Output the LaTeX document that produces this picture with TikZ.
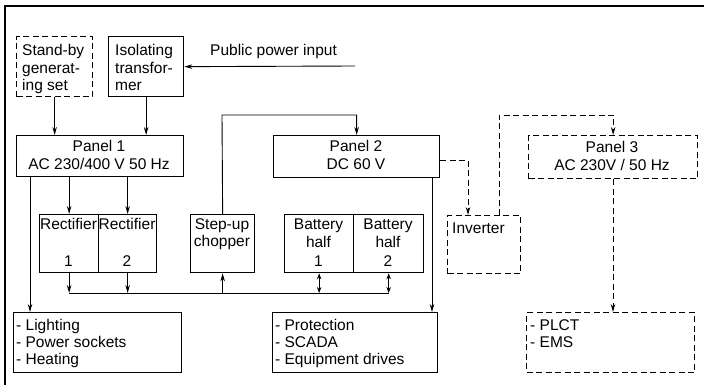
\documentclass[tikz,border=0pt]{standalone}
\usepackage{fontspec}
\setmainfont{Liberation Sans}
\usetikzlibrary{arrows.meta}
\begin{document}
\begin{tikzpicture}[x=1pt,y=-1pt,
  box/.style={draw, line width=1.3pt, inner sep=0pt, anchor=north west},
  dbox/.style={box, dash pattern=on 6pt off 3.5pt},
  txt/.style={inner sep=0pt, anchor=base west, font=\fontsize{15.5}{17}\selectfont},
  ctxt/.style={txt, anchor=base},
  conn/.style={line width=0.9pt},
  dconn/.style={conn, dash pattern=on 6pt off 3.5pt},
  arr/.style={-{Stealth[length=8pt,width=4.5pt]}},
  darr/.style={{Stealth[length=6pt,width=4.5pt]}-{Stealth[length=6pt,width=4.5pt]}},
  uarr/.style={{Stealth[length=8pt,width=4.5pt]}-}
]
\useasboundingbox (0,0) rectangle (704,385);
% frame
\draw[line width=1.6pt] (5,385) -- (5,6) -- (704,6);

% boxes
\node[dbox, minimum width=76pt, minimum height=60pt] (sb) at (16,36) {};
\node[box, minimum width=75pt, minimum height=60pt] (iso) at (108,36) {};
\node[box, minimum width=167pt, minimum height=41pt] (p1) at (16,135) {};
\node[box, minimum width=166pt, minimum height=42pt] (p2) at (273,135) {};
\node[dbox, minimum width=169pt, minimum height=43pt] (p3) at (528,135) {};
\node[box, minimum width=59pt, minimum height=58pt] (r1) at (39,214) {};
\node[box, minimum width=58pt, minimum height=58pt] (r2) at (98,214) {};
\node[box, minimum width=64pt, minimum height=58pt] (ch) at (190,214) {};
\node[box, minimum width=69pt, minimum height=58pt] (b1) at (284,214) {};
\node[box, minimum width=70pt, minimum height=58pt] (b2) at (353,214) {};
\node[dbox, minimum width=73pt, minimum height=58pt] (inv) at (447,215) {};
\node[box, minimum width=168pt, minimum height=60pt] (lt) at (13,312) {};
\node[box, minimum width=165pt, minimum height=60pt] (pr) at (272,312) {};
\node[dbox, minimum width=168pt, minimum height=60pt] (pl) at (526,312) {};

% texts
\node[txt] (t1) at (22,56) {Stand-by};
\node[txt] (t2) at (22,74) {generat-};
\node[txt] (t3) at (22,91) {ing set};
\node[txt] (t4) at (115,56) {Isolating};
\node[txt] (t5) at (115,74) {transfor-};
\node[txt] (t6) at (115,91) {mer};
\node[txt] (t7) at (210,56) {Public power input};
\node[ctxt] (t8) at (99,152) {Panel 1};
\node[ctxt] (t9) at (99,169) {AC 230/400 V 50 Hz};
\node[ctxt] (t10) at (356,152) {Panel 2};
\node[ctxt] (t11) at (356,169) {DC 60 V};
\node[ctxt] (t12) at (612,153) {Panel 3};
\node[ctxt] (t13) at (612,170) {AC 230V / 50 Hz};
\node[ctxt] (t14) at (68.5,229) {Rectifier};
\node[ctxt] (t15) at (68.5,266) {1};
\node[ctxt] (t16) at (127,229) {Rectifier};
\node[ctxt] (t17) at (127,266) {2};
\node[ctxt] (t18) at (222,229) {Step-up};
\node[ctxt] (t19) at (222,246) {chopper};
\node[ctxt] (t20) at (318.5,229) {Battery};
\node[ctxt] (t21) at (318.5,247) {half};
\node[ctxt] (t22) at (318.5,266) {1};
\node[ctxt] (t23) at (388,229) {Battery};
\node[ctxt] (t24) at (388,247) {half};
\node[ctxt] (t25) at (388,266) {2};
\node[txt] (t26) at (452,233) {Inverter};
\node[txt] (t27) at (16,330) {- Lighting};
\node[txt] (t28) at (16,347) {- Power sockets};
\node[txt] (t29) at (16,364) {- Heating};
\node[txt] (t30) at (275,330) {- Protection};
\node[txt] (t31) at (275,347) {- SCADA};
\node[txt] (t32) at (275,364) {- Equipment drives};
\node[txt] (t33) at (530,330) {- PLCT};
\node[txt] (t34) at (530,347) {- EMS};

% connectors
\coordinate (pub) at (355,66);
\draw[conn, arr] (pub) -- (iso.east);
\draw[conn, arr] (sb.south) -- (sb.south |- p1.north);
\draw[conn, arr] (iso.south) -- (iso.south |- p1.north);
\draw[conn, arr] (p1.south -| 30,0) -- (lt.north -| 30,0);
\draw[conn, arr] (p1.south -| r1.north) -- (r1.north);
\draw[conn, arr] (p1.south -| r2.north) -- (r2.north);
\coordinate (c1) at (222,115);
\draw[conn, arr] (ch.north) -- (c1) -| (p2.north);
\draw[conn, arr] (p2.south -| 432,0) -- (pr.north -| 432,0);
% bus
\coordinate (bus) at (0,293);
\draw[conn] (r1.south |- bus) -- (b2.south |- bus);
\draw[conn, arr] (r1.south) -- (r1.south |- bus);
\draw[conn, arr] (r2.south) -- (r2.south |- bus);
\draw[conn, uarr] (ch.south) -- (ch.south |- bus);
\draw[conn, darr] (b1.south) -- (b1.south |- bus);
\draw[conn, darr] (b2.south) -- (b2.south |- bus);
% dashed
\coordinate (d1) at (468,160);
\draw[dconn, arr] (p2.east |- d1) -- (d1) -- (d1 |- inv.north);
\coordinate (d2) at (499,115);
\draw[dconn, arr] (inv.north -| d2) -- (d2) -| (p3.north);
\draw[dconn, arr] (p3.south -| 613,0) -- (pl.north -| 613,0);
\end{tikzpicture}
\end{document}
